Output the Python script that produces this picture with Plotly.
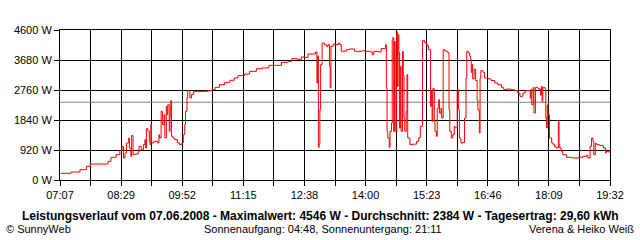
import plotly.graph_objects as go

times = ["07:08","07:22","07:34","07:43","07:48","08:03","08:12","08:16","08:23","08:28",
"08:31","08:33","08:35","08:37","08:40","08:41","08:43","08:44","08:46","08:49",
"08:53","08:54","08:57","09:00","09:02","09:03","09:04","09:06","09:08","09:09",
"09:10","09:11","09:14","09:19","09:21","09:22","09:24","09:26","09:28","09:29",
"09:31","09:32","09:33","09:35","09:36","09:37","09:38","09:40","09:42","09:46",
"09:49","09:52","09:54","09:56","09:57","09:59","10:00","10:03","10:05","10:08",
"10:14","10:27","10:33","10:37","10:43","10:50","10:57","11:03","11:08","11:17",
"11:24","11:33","11:40","11:50","11:58","12:07","12:16","12:21","12:29","12:34",
"12:38","12:43","12:50","12:53","12:55","12:56","12:57","12:58","12:59","13:00",
"13:02","13:05","13:08","13:10","13:12","13:13","13:14","13:17","13:21","13:24",
"13:26","13:28","13:30","13:35","13:39","13:46","13:55","14:00","14:07","14:10",
"14:12","14:18","14:22","14:28","14:29","14:30","14:31","14:33","14:34","14:36",
"14:37","14:38","14:39","14:40","14:41","14:43","14:44","14:45","14:46","14:47",
"14:48","14:49","14:51","14:52","14:53","14:54","14:56","14:57","14:58","15:01",
"15:05","15:10","15:13","15:15","15:16","15:18","15:21","15:24","15:26","15:28",
"15:29","15:30","15:31","15:32","15:34","15:35","15:37","15:38","15:40","15:41",
"15:43","15:44","15:46","15:48","15:51","15:53","15:54","15:55","15:57","15:59",
"16:01","16:02","16:05","16:07","16:08","16:10","16:13","16:15","16:17","16:18",
"16:20","16:22","16:23","16:24","16:25","16:26","16:28","16:30","16:32","16:33",
"16:35","16:36","16:37","16:40","16:42","16:47","16:51","16:56","17:00","17:05",
"17:08","17:12","17:17","17:18","17:23","17:27","17:30","17:34","17:37","17:42",
"17:44","17:45","17:46","17:48","17:49","17:51","17:54","17:55","17:58","17:59",
"18:00","18:01","18:04","18:05","18:06","18:07","18:08","18:10","18:13","18:15",
"18:17","18:19","18:22","18:23","18:24","18:26","18:28","18:33","18:40","18:49",
"18:55","19:00","19:02","19:05","19:07","19:09","19:10","19:12","19:14","19:18",
"19:23","19:26","19:27","19:31"]

power_w = [205,245,316,419,490,490,572,695,777,900,
1033,675,828,1135,1288,981,726,1360,777,797,
858,1033,930,1084,1237,981,1574,1500,1186,1084,
1697,1135,1186,1135,1390,1290,2106,1697,2000,1290,
2259,2000,2310,1492,1950,2433,1340,1290,1240,1135,
1084,1135,1390,1697,2106,2515,2739,2515,2620,2719,
2719,2739,2770,2842,2923,2995,3057,3128,3200,3251,
3333,3414,3435,3516,3516,3608,3639,3721,3700,3772,
3760,3864,3864,3925,2975,3800,1000,1100,2157,3537,
4201,4150,4099,4150,3486,2821,4100,4171,4150,4201,
4150,3946,3950,3997,4018,3946,3960,3946,3925,3843,
3946,3925,4028,4150,2821,1492,1288,1002,1492,1748,
4304,4375,1492,4250,1492,4546,2872,4457,3900,1594,
3486,1492,3946,3200,1900,1492,2100,3230,1288,1084,
1100,1186,1300,1646,1646,4273,4200,4120,3997,3997,
2259,2719,1799,2800,1799,1492,1340,2200,2463,2050,
2200,1900,3997,3960,3925,3900,2157,1492,1288,1390,
1646,1600,2770,2157,1288,1135,1150,1900,3128,3946,
3900,3792,3700,3300,3550,3100,3400,3050,2450,2150,
1441,3128,3353,3300,3128,3100,3050,2975,2920,2842,
2770,2790,2790,2770,2740,2668,2566,2668,2739,2739,
2500,2790,2310,2842,2055,2842,2820,2790,2600,2870,
2400,2842,2790,1901,1594,2300,2000,1288,1135,1084,
1033,981,1799,1084,981,879,777,695,675,695,
726,760,675,1033,1288,1180,777,1120,1084,1060,
981,828,880,830]

average_w = 2384
x_tick_labels = ["07:07","08:29","09:52","11:15","12:38","14:00","15:23","16:46","18:09","19:32"]
y_ticks = [0, 920, 1840, 2760, 3680, 4600]

title_text = ("Leistungsverlauf vom 07.06.2008 - Maximalwert: 4546 W - "
              "Durchschnitt: 2384 W - Tagesertrag: 29,60 kWh")
footer_left = "© SunnyWeb"
footer_mid = "Sonnenaufgang: 04:48, Sonnenuntergang: 21:11"
footer_right = "Verena & Heiko Weiß"

def to_min(s):
    h, m = s.split(":")
    return int(h) * 60 + int(m)

x = [to_min(t) for t in times]
x0 = to_min(x_tick_labels[0])
x1 = to_min(x_tick_labels[-1])
n_int = 18
step = (x1 - x0) / n_int
tickvals = [x0 + i * step for i in range(n_int + 1)]
ticktext = [x_tick_labels[i // 2] if i % 2 == 0 else "" for i in range(n_int + 1)]

FONT = "Liberation Sans"

fig = go.Figure()
fig.add_trace(go.Scatter(x=[x0, x1], y=[average_w, average_w], mode="lines",
                         line=dict(color="#808080", width=1), hoverinfo="skip"))
fig.add_trace(go.Scatter(x=x, y=power_w, mode="lines", line_shape="hv",
                         line=dict(color="#ff0000", width=1)))

fig.update_layout(
    width=640, height=240,
    margin=dict(l=60, r=30, t=30, b=60),
    paper_bgcolor="white", plot_bgcolor="white",
    showlegend=False,
    font=dict(family=FONT, size=11, color="black"),
)
fig.update_xaxes(range=[x0, x1], tickvals=tickvals, ticktext=ticktext,
                 showgrid=True, gridcolor="black", gridwidth=1,
                 showline=True, linecolor="black", linewidth=1, mirror=True,
                 ticks="outside", ticklen=5, tickcolor="black", zeroline=False,
                 tickfont=dict(family=FONT, size=11))
fig.update_yaxes(range=[0, 4600], tickvals=y_ticks,
                 ticktext=[f"{v} W" for v in y_ticks],
                 showgrid=True, gridcolor="black", gridwidth=1,
                 showline=True, linecolor="black", linewidth=1, mirror=True,
                 ticks="outside", ticklen=5, tickcolor="black", zeroline=False,
                 tickfont=dict(family=FONT, size=11))

fig.add_annotation(text="<b>" + title_text + "</b>", xref="paper", yref="paper",
                   x=0.5, y=0, xanchor="center", yanchor="middle", showarrow=False,
                   font=dict(family=FONT, size=12), xshift=-15, yshift=-36)
fig.add_annotation(text=footer_left, xref="paper", yref="paper", x=0, y=0,
                   xanchor="left", yanchor="middle", showarrow=False, xshift=-56, yshift=-49,
                   font=dict(family=FONT, size=11))
fig.add_annotation(text=footer_mid, xref="paper", yref="paper", x=0.5, y=0,
                   xanchor="center", yanchor="middle", showarrow=False, xshift=-12, yshift=-49,
                   font=dict(family=FONT, size=11))
fig.add_annotation(text=footer_right, xref="paper", yref="paper", x=1, y=0,
                   xanchor="right", yanchor="middle", showarrow=False, xshift=26, yshift=-49,
                   font=dict(family=FONT, size=11))

fig.write_html("out.html")
